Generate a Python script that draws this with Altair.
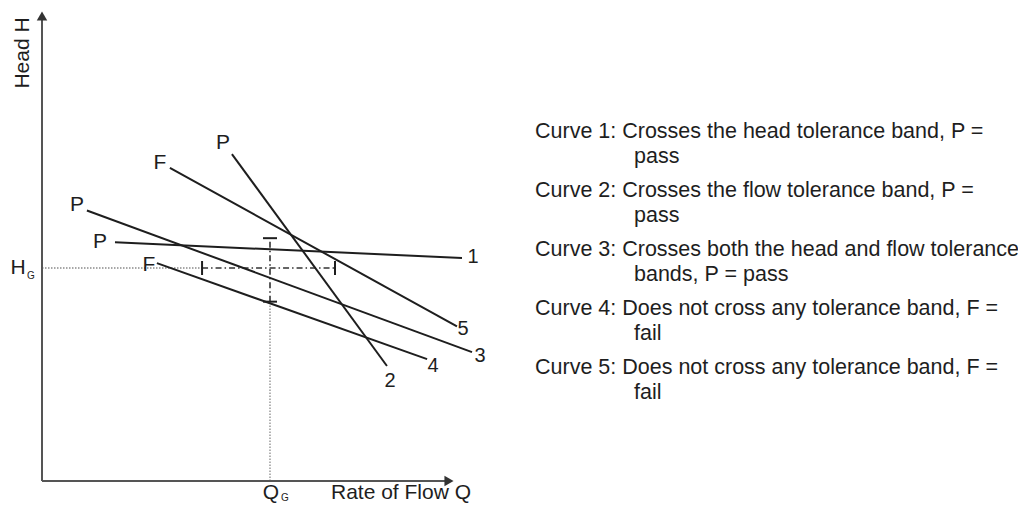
import altair as alt
import pandas as pd

# ---------------- data (Q in units of Q_G, H in units of H_G) ----------------
curve_ids = ["1", "2", "3", "4", "5"]
curve_verdict = ["P", "P", "P", "F", "F"]
q_start = [0.320, 0.833, 0.197, 0.504, 0.561]
h_start = [1.121, 1.535, 1.270, 1.023, 1.470]
q_end = [1.842, 1.513, 1.886, 1.689, 1.820]
h_end = [1.047, 0.540, 0.605, 0.572, 0.726]

q_guarantee = 1.0
h_guarantee = 1.0
q_band = [0.702, 1.285]   # flow tolerance band
h_band = [0.842, 1.140]   # head tolerance band

legend_first = [
    "Curve 1: Crosses the head tolerance band, P =",
    "Curve 2: Crosses the flow tolerance band, P =",
    "Curve 3: Crosses both the head and flow tolerance",
    "Curve 4: Does not cross any tolerance band, F =",
    "Curve 5: Does not cross any tolerance band, F =",
]
legend_second = ["pass", "pass", "bands, P = pass", "fail", "fail"]

# ---------------- layout (pixels of the 1026x512 page) ----------------
W, H = 1010, 496
ORIGIN_X, ORIGIN_Y = 42, 481        # page px of the diagram origin
PX_PER_Q, PX_PER_H = 228.0, 213.0   # page px per unit Q_G / H_G


def qx(px):
    return (px - ORIGIN_X) / PX_PER_Q


def hy(py):
    return (ORIGIN_Y - py) / PX_PER_H


xs = alt.Scale(domain=[qx(8), qx(8 + W)], nice=False, zero=False)
ys = alt.Scale(domain=[hy(8 + H), hy(8)], nice=False, zero=False)
FONT = "Liberation Sans"
INK = "#1e1e1e"


def X(f):
    return alt.X(f, type="quantitative", scale=xs, axis=None)


def Y(f):
    return alt.Y(f, type="quantitative", scale=ys, axis=None)


def segs(rows):
    return pd.DataFrame(rows, columns=["q", "h", "q2", "h2"])


def rule(df, **kw):
    return alt.Chart(df).mark_rule(**kw).encode(
        x=X("q"), y=Y("h"), x2="q2", y2="h2")


# axes drawn as arrows
axis_df = segs([[0, 0, 0, hy(16)], [0, 0, qx(449), 0]])
axes = rule(axis_df, color="#555555", strokeWidth=2)
arrows = alt.Chart(pd.DataFrame({
    "q": [0, qx(449)], "h": [hy(16), 0],
    "shape": ["triangle-up", "triangle-right"]})).mark_point(
    filled=True, size=110, color="#333333", opacity=1).encode(
    x=X("q"), y=Y("h"), shape=alt.Shape("shape:N", scale=None))

# guarantee point guides
dotted = rule(segs([[0, h_guarantee, q_band[0], h_guarantee],
                    [q_guarantee, 0, q_guarantee, h_band[0]]]),
              color="#8a8a8a", strokeWidth=1.3, strokeDash=[1.5, 1.5])
dashdot = rule(segs([[q_band[0], h_guarantee, q_band[1], h_guarantee],
                     [q_guarantee, h_band[0], q_guarantee, h_band[1]]]),
               color="#333333", strokeWidth=1.6, strokeDash=[6, 3, 1.5, 3])
tq = 7 / PX_PER_H
th = 7 / PX_PER_Q
ticks = rule(segs([[q_band[0], h_guarantee - tq, q_band[0], h_guarantee + tq],
                   [q_band[1], h_guarantee - tq, q_band[1], h_guarantee + tq],
                   [q_guarantee - th, h_band[0], q_guarantee + th, h_band[0]],
                   [q_guarantee - th, h_band[1], q_guarantee + th, h_band[1]]]),
             color=INK, strokeWidth=2)

# pump curves
curves_df = pd.DataFrame({"id": curve_ids, "q": q_start, "h": h_start,
                          "q2": q_end, "h2": h_end})
curves = rule(curves_df, color=INK, strokeWidth=2)

# labels at curve starts (verdict) and ends (number): offsets in px
start_off = [(-15, 0), (-9, -11), (-10, -5), (-8, 2), (-10, -5)]
end_off = [(11, -1), (3, 15), (8, 4), (6, 7), (6, 3)]
start_lab = pd.DataFrame({
    "t": curve_verdict,
    "q": [q + dx / PX_PER_Q for q, (dx, dy) in zip(q_start, start_off)],
    "h": [h - dy / PX_PER_H for h, (dx, dy) in zip(h_start, start_off)]})
end_lab = pd.DataFrame({
    "t": curve_ids,
    "q": [q + dx / PX_PER_Q for q, (dx, dy) in zip(q_end, end_off)],
    "h": [h - dy / PX_PER_H for h, (dx, dy) in zip(h_end, end_off)]})


def text(df, size=20, align="center", angle=None, baseline="middle"):
    kw = dict(font=FONT, fontSize=size, color=INK, align=align, baseline=baseline)
    if angle is not None:
        kw["angle"] = angle
    return alt.Chart(df).mark_text(**kw).encode(x=X("q"), y=Y("h"), text="t:N")


labels_s = text(start_lab, size=21)
labels_e = text(end_lab, size=20)

axis_titles = text(pd.DataFrame({"t": ["Rate of Flow Q"], "q": [qx(331)], "h": [hy(493)]}),
                   size=21, align="left")
head_title = text(pd.DataFrame({"t": ["Head H"], "q": [qx(23)], "h": [hy(53)]}),
                  size=21, angle=270)
hg = text(pd.DataFrame({"t": ["H"], "q": [qx(18)], "h": [hy(268)]}), size=21)
hg_sub = text(pd.DataFrame({"t": ["G"], "q": [qx(31)], "h": [hy(276)]}), size=10)
qg = text(pd.DataFrame({"t": ["Q"], "q": [qx(271)], "h": [hy(493)]}), size=21)
qg_sub = text(pd.DataFrame({"t": ["G"], "q": [qx(285)], "h": [hy(498)]}), size=10)

# explanation text
rows = []
for i, (a, b) in enumerate(zip(legend_first, legend_second)):
    y0 = 132 + 59 * i
    rows.append({"t": a, "q": qx(535), "h": hy(y0)})
    rows.append({"t": b, "q": qx(634), "h": hy(y0 + 25)})
legend = text(pd.DataFrame(rows), size=21.5, align="left")

chart = alt.layer(
    dotted, dashdot, ticks, axes, arrows, curves,
    labels_s, labels_e, axis_titles, head_title, hg, hg_sub, qg, qg_sub, legend
).properties(
    width=W, height=H, padding=0, autosize=alt.AutoSizeParams(type="none")
).configure_view(strokeWidth=0, strokeOpacity=0)

chart.save("out.html", embed_options={"renderer": "svg", "actions": False})
